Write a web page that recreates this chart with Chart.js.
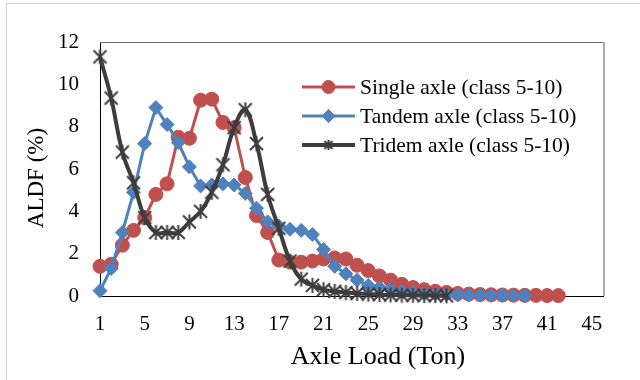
<!DOCTYPE html>
<html>
<head>
<meta charset="utf-8">
<script src="https://cdn.jsdelivr.net/npm/chart.js@4.4.0/dist/chart.umd.min.js"></script>
<style>
  html, body { margin: 0; padding: 0; background: #fff; }
  #wrap { width: 640px; height: 380px; position: relative; }
</style>
</head>
<body>
<div id="wrap"><canvas id="c" width="640" height="380"></canvas></div>
<script>
// Axle load categories (ton)
const axleLoads = [1,2,3,4,5,6,7,8,9,10,11,12,13,14,15,16,17,18,19,20,21,22,23,24,25,26,27,28,29,30,31,32,33,34,35,36,37,38,39,40,41,42];

// Axle load distribution factors (%), class 5-10
const singleAldf = [1.4,1.5,2.4,3.1,3.7,4.8,5.3,7.5,7.45,9.25,9.3,8.2,7.95,5.6,3.8,3.0,1.7,1.6,1.6,1.65,1.75,1.8,1.75,1.45,1.2,0.95,0.75,0.55,0.4,0.3,0.22,0.17,0.12,0.09,0.07,0.06,0.05,0.04,0.03,0.03,0.02,0.02];
const tandemAldf = [0.25,1.3,3.0,4.9,7.2,8.9,8.1,7.25,6.1,5.2,5.25,5.3,5.25,4.85,4.15,3.5,3.3,3.15,3.1,2.9,2.2,1.4,1.05,0.75,0.5,0.4,0.3,0.22,0.16,0.12,0.09,0.07,0.05,0.04,0.04,0.03,0.03,0.02,0.02];
const tridemAldf = [11.3,9.35,6.8,5.35,3.7,3.0,3.0,3.0,3.5,4.0,4.9,6.2,7.95,8.8,7.2,4.8,3.2,1.65,0.8,0.5,0.3,0.22,0.16,0.12,0.09,0.07,0.05,0.04,0.03,0.02,0.02,0.01];

// Axis tick labels
const xTickLabels = [1,5,9,13,17,21,25,29,33,37,41,45];
const yTickLabels = [0,2,4,6,8,10,12];

const seriesNames = ['Single axle (class 5-10)', 'Tandem axle (class 5-10)', 'Tridem axle (class 5-10)'];
const xTitle = 'Axle Load (Ton)';
const yTitle = 'ALDF (%)';

const SERIF = '"Liberation Serif", "Times New Roman", serif';

function toPoints(values) {
  return values.map((v, i) => ({ x: axleLoads[i], y: v }));
}

// Asterisk marker for the tridem series
function makeAsterisk(size, color, lw) {
  const cv = document.createElement('canvas');
  cv.width = size; cv.height = size;
  const g = cv.getContext('2d');
  g.strokeStyle = color;
  g.lineWidth = lw;
  g.lineCap = 'butt';
  const m = lw;
  g.beginPath();
  g.moveTo(m, m); g.lineTo(size - m, size - m);
  g.moveTo(size - m, m); g.lineTo(m, size - m);
  g.moveTo(size / 2, m - 1); g.lineTo(size / 2, size - m + 1);
  g.stroke();
  return cv;
}
const starBig = makeAsterisk(17, '#3d3d3d', 2);
const starSmall = makeAsterisk(12, '#3d3d3d', 2);

const RED = '#C0504D';
const BLUE = '#4F81BD';
const DARK = '#3d3d3d';

// Frame, plot border, axis titles and in-plot legend
const decorations = {
  id: 'decorations',
  beforeDatasetsDraw(chart) {
    const { ctx, chartArea: a } = chart;
    ctx.save();
    ctx.strokeStyle = '#d4d4d4';
    ctx.lineWidth = 1;
    ctx.strokeRect(6.5, 3.5, 700, 500);
    ctx.strokeStyle = '#6e6e6e';
    ctx.beginPath();
    ctx.moveTo(a.left, a.top + 0.5);
    ctx.lineTo(a.right, a.top + 0.5);
    ctx.stroke();
    ctx.strokeStyle = '#a8a8a8';
    ctx.lineWidth = 2;
    ctx.beginPath();
    ctx.moveTo(a.right + 1, a.top);
    ctx.lineTo(a.right + 1, a.bottom);
    ctx.stroke();
    ctx.restore();
  },
  afterDraw(chart) {
    const { ctx } = chart;
    ctx.save();
    ctx.fillStyle = '#000';
    ctx.textAlign = 'center';
    ctx.textBaseline = 'middle';
    ctx.font = '26px ' + SERIF;
    ctx.fillText(xTitle, 378, 357);
    ctx.translate(37, 178);
    ctx.rotate(-Math.PI / 2);
    ctx.font = '23px ' + SERIF;
    ctx.fillText(yTitle, 0, 0);
    ctx.restore();

    const rows = [87, 116, 145];
    chart.data.datasets.forEach((ds, i) => {
      const y = rows[i];
      ctx.save();
      ctx.strokeStyle = ds.borderColor;
      ctx.lineWidth = ds.borderWidth;
      ctx.beginPath();
      ctx.moveTo(302, y);
      ctx.lineTo(355, y);
      ctx.stroke();
      ctx.fillStyle = ds.pointBackgroundColor;
      ctx.strokeStyle = ds.pointBorderColor;
      ctx.lineWidth = 1;
      const style = i === 2 ? starSmall : ds.pointStyle;
      Chart.helpers.drawPoint(ctx, { pointStyle: style, radius: 6.5, rotation: 0, borderWidth: 1 }, 328.5, y);
      ctx.fillStyle = '#000';
      ctx.font = '21.5px ' + SERIF;
      ctx.textAlign = 'left';
      ctx.textBaseline = 'middle';
      ctx.fillText(ds.label, 360, y + 1);
      ctx.restore();
    });
  }
};

new Chart(document.getElementById('c'), {
  type: 'line',
  data: {
    datasets: [
      {
        label: seriesNames[0],
        data: toPoints(singleAldf),
        borderColor: RED, backgroundColor: RED,
        pointBackgroundColor: RED, pointBorderColor: RED,
        borderWidth: 3, pointStyle: 'circle', pointRadius: 7, pointBorderWidth: 1,
        tension: 0, clip: false, order: 3
      },
      {
        label: seriesNames[1],
        data: toPoints(tandemAldf),
        borderColor: BLUE, backgroundColor: BLUE,
        pointBackgroundColor: BLUE, pointBorderColor: BLUE,
        borderWidth: 3, pointStyle: 'rectRot', pointRadius: 7, pointBorderWidth: 1,
        tension: 0, clip: false, order: 2
      },
      {
        label: seriesNames[2],
        data: toPoints(tridemAldf),
        borderColor: DARK, backgroundColor: DARK,
        pointBackgroundColor: DARK, pointBorderColor: DARK,
        borderWidth: 4, pointStyle: starBig, pointRadius: 8, pointBorderWidth: 1,
        tension: 0.4, clip: false, order: 1
      }
    ]
  },
  options: {
    responsive: false,
    animation: false,
    devicePixelRatio: 1,
    layout: { padding: { top: 42, right: 37, left: 0, bottom: 0 } },
    plugins: { legend: { display: false }, tooltip: { enabled: false } },
    scales: {
      x: {
        type: 'linear',
        min: 1, max: 46,
        grid: { display: false, drawTicks: false },
        border: { display: true, color: '#000', width: 1 },
        ticks: { color: '#000', font: { family: SERIF, size: 21 }, padding: 16, maxRotation: 0, autoSkip: false },
        afterBuildTicks: s => { s.ticks = xTickLabels.map(v => ({ value: v })); },
        afterFit: s => { s.height = 84; }
      },
      y: {
        min: 0, max: 12,
        grid: { display: false, drawTicks: false },
        border: { display: true, color: '#000', width: 1 },
        ticks: { color: '#000', font: { family: SERIF, size: 21 }, padding: 21 },
        afterBuildTicks: s => { s.ticks = yTickLabels.map(v => ({ value: v })); },
        afterFit: s => { s.width = 100; }
      }
    }
  },
  plugins: [decorations]
});
</script>
</body>
</html>
